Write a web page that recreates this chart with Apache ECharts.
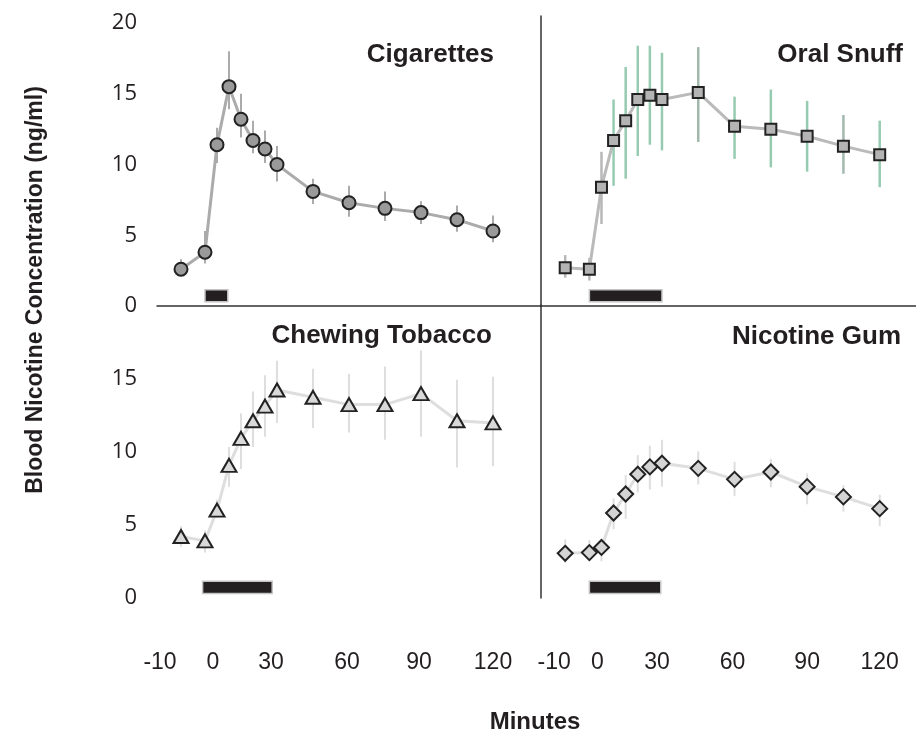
<!DOCTYPE html>
<html>
    <head>
        <meta charset="utf-8">
        <script src="https://cdn.jsdelivr.net/npm/echarts@6/dist/echarts.min.js"></script>
    </head>
    <body style="margin: 0">
        <div id="chart" style="width: 916px; height: 738px"></div>
        <script>
            // sampling times (minutes) shared by all four panels
            const times = [-10, 0, 5, 10, 15, 20, 25, 30, 45, 60, 75, 90, 105, 120];
            const xTicks = [-10, 0, 30, 60, 90, 120];
            const yTicks = [0, 5, 10, 15, 20];

            const cigMean = [2.6, 3.8, 11.4, 15.5, 13.2, 11.7, 11.1, 10.0, 8.1, 7.3, 6.9, 6.6, 6.1, 5.3];
            const cigLow  = [2.1, 3.0, 10.1, 13.9, 11.9, 10.8, 10.1, 8.8, 7.2, 6.3, 6.0, 5.8, 5.25, 4.5];
            const cigHigh = [3.3, 5.3, 12.6, 18.0, 15.0, 13.1, 12.4, 11.3, 9.0, 8.5, 8.1, 7.4, 7.1, 6.4];

            const snuffMean = [2.7, 2.6, 8.4, 11.7, 13.1, 14.6, 14.9, 14.6, 15.1, 12.7, 12.5, 12.0, 11.3, 10.7];
            const snuffLow  = [2.0, 1.8, 5.8, 8.5, 9.0, 10.6, 11.4, 11.0, 11.6, 10.4, 9.8, 9.5, 9.35, 8.4];
            const snuffHigh = [3.6, 3.4, 10.9, 14.6, 16.9, 18.4, 18.4, 17.9, 18.3, 14.8, 15.3, 14.5, 13.5, 13.1];
            // times whose snuff error bars are drawn green / muted green
            const snuffGreenTimes = [10, 15, 20, 25, 30, 60, 75, 90, 120];
            const snuffMutedTimes = [45, 105];

            const chewMean = [4.2, 3.9, 6.0, 9.05, 10.9, 12.1, 13.1, 14.2, 13.7, 13.2, 13.2, 13.95, 12.1, 11.95];
            const chewLow  = [3.5, 3.1, 5.5, 7.6, 8.8, 10.3, 11.0, 11.95, 11.6, 11.3, 10.8, 11.0, 8.9, 9.0];
            const chewHigh = [4.9, 4.6, 6.7, 10.3, 12.6, 14.1, 15.2, 16.2, 15.65, 15.3, 15.8, 16.9, 14.9, 15.1];

            const gumMean = [3.05, 3.1, 3.45, 5.8, 7.1, 8.45, 8.95, 9.2, 8.85, 8.1, 8.6, 7.6, 6.9, 6.1];
            const gumLow  = [2.4, 2.6, 2.5, 4.7, 5.4, 7.2, 7.4, 7.6, 7.75, 6.95, 7.55, 6.4, 5.9, 4.9];
            const gumHigh = [4.0, 3.95, 3.95, 6.8, 8.4, 9.75, 10.4, 10.8, 10.0, 9.3, 9.5, 8.5, 7.7, 7.05];

            // exposure period [start, end] in minutes, drawn as the black bar
            const cigExposure = [0, 9.5];
            const snuffExposure = [0, 30];
            const chewExposure = [-1, 28];
            const gumExposure = [0, 29.5];
            const exposureBand = [0.3, 1.15];

            const ink = '#231f20';
            const sans = '"Liberation Sans", sans-serif';

            let chart = echarts.init(document.getElementById('chart'));

            // nudge some tick labels like the original hand placed layout
            function xLabels(shift) {
                let rich = {};
                xTicks.forEach((t, i) => {
                    let s = shift[i];
                    rich['t' + i] = {
                        fontFamily: sans, fontSize: 23, color: ink,
                        padding: s < 0 ? [0, -2 * s, 0, 0] : [0, 0, 0, 2 * s]
                    };
                });
                return {
                    customValues: xTicks,
                    margin: 53,
                    formatter: v => '{t' + xTicks.indexOf(v) + '|' + v + '}',
                    rich: rich
                };
            }

            function errorSeries(idx, low, high, colorFn, width) {
                return {
                    type: 'custom',
                    xAxisIndex: idx, yAxisIndex: idx,
                    z: 1,
                    silent: true,
                    data: times.map((t, i) => [t, low[i], high[i]]),
                    encode: {x: 0, y: [1, 2]},
                    renderItem: function (params, api) {
                        let t = api.value(0);
                        let a = api.coord([t, api.value(1)]);
                        let b = api.coord([t, api.value(2)]);
                        return {
                            type: 'line',
                            shape: {x1: a[0], y1: a[1], x2: b[0], y2: b[1]},
                            style: {stroke: colorFn(t), lineWidth: width}
                        };
                    }
                };
            }

            function exposureSeries(idx, span) {
                return {
                    type: 'custom',
                    xAxisIndex: idx, yAxisIndex: idx,
                    z: 1,
                    silent: true,
                    data: [[span[0], span[1], exposureBand[0], exposureBand[1]]],
                    renderItem: function (params, api) {
                        let p1 = api.coord([api.value(0), api.value(3)]);
                        let p2 = api.coord([api.value(1), api.value(2)]);
                        return {
                            type: 'rect',
                            shape: {x: p1[0], y: p1[1], width: p2[0] - p1[0], height: p2[1] - p1[1]},
                            style: {fill: ink, stroke: '#c4c4c4', lineWidth: 1.5}
                        };
                    }
                };
            }

            function meanSeries(idx, mean, symbol, size, fill, lineColor) {
                return {
                    type: 'line',
                    xAxisIndex: idx, yAxisIndex: idx,
                    z: 3,
                    data: times.map((t, i) => [t, mean[i]]),
                    symbol: symbol,
                    symbolSize: size,
                    showAllSymbol: true,
                    itemStyle: {color: fill, borderColor: '#222', borderWidth: 2},
                    lineStyle: {color: lineColor, width: 3}
                };
            }

            const plainX = {
                type: 'value', min: -20, max: 140,
                splitLine: {show: false}, axisTick: {show: false}
            };
            const rightX = Object.assign({}, plainX, {max: 135});
            const darkLine = {show: true, onZero: false, lineStyle: {color: '#333', width: 1.5}};

            const yLabelStyle = {
                fontFamily: '"Open Sans", sans-serif', fontSize: 22, color: ink, margin: 20
            };

            const titleFont = 'bold 26px ' + sans;

            let option = {
                animation: false,
                backgroundColor: '#fff',
                grid: [
                    {left: 157, top: 23, width: 384, height: 283},
                    {left: 541, top: 16, width: 375, height: 290},
                    {left: 157, top: 305, width: 384, height: 293},
                    {left: 541, top: 305, width: 375, height: 293}
                ],
                xAxis: [
                    Object.assign({}, plainX, {gridIndex: 0, axisLine: darkLine, axisLabel: {show: false}}),
                    Object.assign({}, rightX, {gridIndex: 1, axisLine: darkLine, axisLabel: {show: false}}),
                    Object.assign({}, plainX, {gridIndex: 2, axisLine: {show: false},
                        axisLabel: xLabels([-21, 8, -6, -2, -2, 0])}),
                    Object.assign({}, rightX, {gridIndex: 3, axisLine: {show: false},
                        axisLabel: xLabels([-11, 8, -5, -2, 0, 0])})
                ],
                yAxis: [
                    {type: 'value', gridIndex: 0, min: 0, max: 20, interval: 5,
                        splitLine: {show: false}, axisTick: {show: false}, axisLine: {show: false},
                        axisLabel: Object.assign({customValues: yTicks}, yLabelStyle)},
                    {type: 'value', gridIndex: 1, min: 0, max: 20.5,
                        splitLine: {show: false}, axisTick: {show: false}, axisLine: darkLine,
                        axisLabel: {show: false}},
                    {type: 'value', gridIndex: 2, min: 0, max: 20, interval: 5,
                        splitLine: {show: false}, axisTick: {show: false}, axisLine: {show: false},
                        axisLabel: Object.assign({customValues: yTicks.slice(0, 4)}, yLabelStyle)},
                    {type: 'value', gridIndex: 3, min: 0, max: 20,
                        splitLine: {show: false}, axisTick: {show: false}, axisLine: darkLine,
                        axisLabel: {show: false}}
                ],
                series: [
                    errorSeries(0, cigLow, cigHigh, () => '#ababab', 2),
                    exposureSeries(0, cigExposure),
                    meanSeries(0, cigMean, 'circle', 13, '#9a9a9a', '#ababab'),

                    errorSeries(1, snuffLow, snuffHigh, t =>
                        snuffGreenTimes.includes(t) ? '#97cbb1' :
                        snuffMutedTimes.includes(t) ? '#a3b8ad' : '#b8b8b8', 2.5),
                    exposureSeries(1, snuffExposure),
                    meanSeries(1, snuffMean, 'rect', 11, '#b4b4b4', '#bababa'),

                    errorSeries(2, chewLow, chewHigh, () => '#dedede', 2),
                    exposureSeries(2, chewExposure),
                    meanSeries(2, chewMean, 'triangle', [15, 13], '#d9d9d9', '#dedede'),

                    errorSeries(3, gumLow, gumHigh, () => '#dedede', 2),
                    exposureSeries(3, gumExposure),
                    meanSeries(3, gumMean, 'diamond', 15, '#d4d4d4', '#dedede')
                ],
                graphic: [
                    {type: 'text', x: 494, y: 55, style: {text: 'Cigarettes', align: 'right', verticalAlign: 'middle',
                        font: titleFont, fill: ink}},
                    {type: 'text', x: 903, y: 55, style: {text: 'Oral Snuff', align: 'right', verticalAlign: 'middle',
                        font: titleFont, fill: ink}},
                    {type: 'text', x: 492, y: 336, style: {text: 'Chewing Tobacco', align: 'right', verticalAlign: 'middle',
                        font: titleFont, fill: ink}},
                    {type: 'text', x: 901, y: 337, style: {text: 'Nicotine Gum', align: 'right', verticalAlign: 'middle',
                        font: titleFont, fill: ink}},
                    {type: 'text', x: 36, y: 290, rotation: Math.PI / 2,
                        style: {text: 'Blood Nicotine Concentration (ng/ml)', align: 'center', verticalAlign: 'middle',
                        font: 'bold 23px ' + sans, fill: ink}},
                    {type: 'text', x: 535, y: 722, style: {text: 'Minutes', align: 'center', verticalAlign: 'middle',
                        font: 'bold 24px ' + sans, fill: ink}}
                ]
            };

            chart.setOption(option);
        </script>
    </body>
</html>
